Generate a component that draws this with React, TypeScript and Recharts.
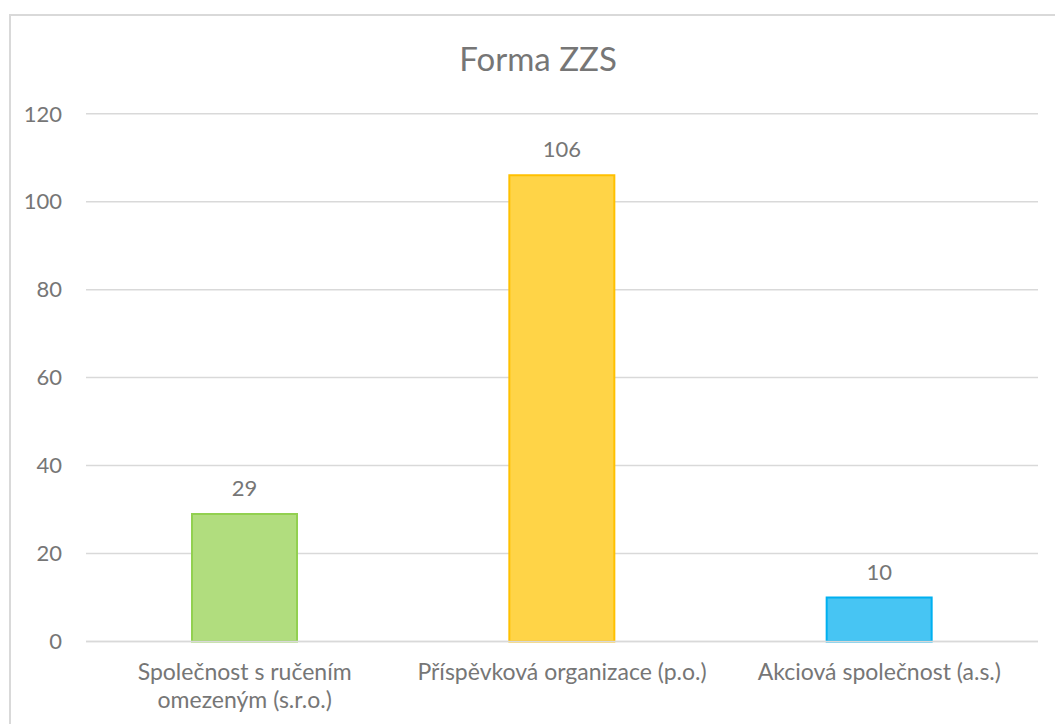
import React from "react";
import { BarChart, Bar, XAxis, YAxis, CartesianGrid, Cell, LabelList } from "recharts";

const title = "Forma ZZS";
const categories = [
  "Společnost s ručením omezeným (s.r.o.)",
  "Příspěvková organizace (p.o.)",
  "Akciová společnost (a.s.)",
];
const tickLabels = [
  ["Společnost s ručením", "omezeným (s.r.o.)"],
  ["Příspěvková organizace (p.o.)"],
  ["Akciová společnost (a.s.)"],
];
const values = [29, 106, 10];
const fills = ["#B1DD7E", "#FFD447", "#47C5F3"];
const strokes = ["#92D050", "#FFC000", "#00B0F0"];
const yTicks = [0, 20, 40, 60, 80, 100, 120];

const data = categories.map((c, i) => ({ name: c, value: values[i] }));

const FONT = "Lato, 'Open Sans', sans-serif";
const TEXT = "#767676";

const XTick = (props: any) => {
  const { x, y, payload } = props;
  const idx = categories.indexOf(payload.value);
  const lines = tickLabels[idx] || [String(payload.value)];
  return (
    <text x={x} y={y} textAnchor="middle" fill={TEXT} fontSize={23} fontFamily={FONT}>
      {lines.map((l, i) => (
        <tspan key={i} x={x} dy={i === 0 ? 30.5 : 28}>
          {l}
        </tspan>
      ))}
    </text>
  );
};

export default function App() {
  return (
    <div style={{ position: "fixed", left: 0, top: 0, width: 1055, height: 724, overflow: "hidden", background: "#fff" }}>
      <div
        style={{
          position: "absolute",
          left: 9,
          top: 14,
          width: 1200,
          height: 900,
          border: "2px solid #d9d9d9",
          boxSizing: "border-box",
        }}
      />
      <svg style={{ position: "absolute", left: 0, top: 0 }} width={1055} height={100}>
        <text x={538} y={70.5} textAnchor="middle" fill={TEXT} fontSize={33} fontFamily={FONT}>
          {title}
        </text>
      </svg>
      <div style={{ position: "absolute", left: 0, top: 0 }}>
        <BarChart
          width={1055}
          height={724}
          data={data}
          margin={{ top: 113.7, right: 17, bottom: 0, left: 0 }}
          barSize={105}
        >
          <CartesianGrid vertical={false} stroke="#d9d9d9" strokeWidth={1.5} />
          <XAxis
            dataKey="name"
            height={82.5}
            axisLine={{ stroke: "#d9d9d9", strokeWidth: 1.5 }}
            tickLine={false}
            tick={<XTick />}
            interval={0}
          />
          <YAxis
            width={86}
            domain={[0, 120]}
            ticks={yTicks}
            axisLine={false}
            tickLine={false}
            tickSize={6}
            tickMargin={18}
            tick={{ fill: TEXT, fontSize: 22, fontFamily: FONT }}
          />
          <Bar dataKey="value" isAnimationActive={false} strokeWidth={2}>
            {data.map((d, i) => (
              <Cell key={d.name} fill={fills[i]} stroke={strokes[i]} />
            ))}
            <LabelList
              dataKey="value"
              position="top"
              offset={18}
              fill={TEXT}
              fontSize={22}
              fontFamily={FONT}
            />
          </Bar>
        </BarChart>
      </div>
    </div>
  );
}
